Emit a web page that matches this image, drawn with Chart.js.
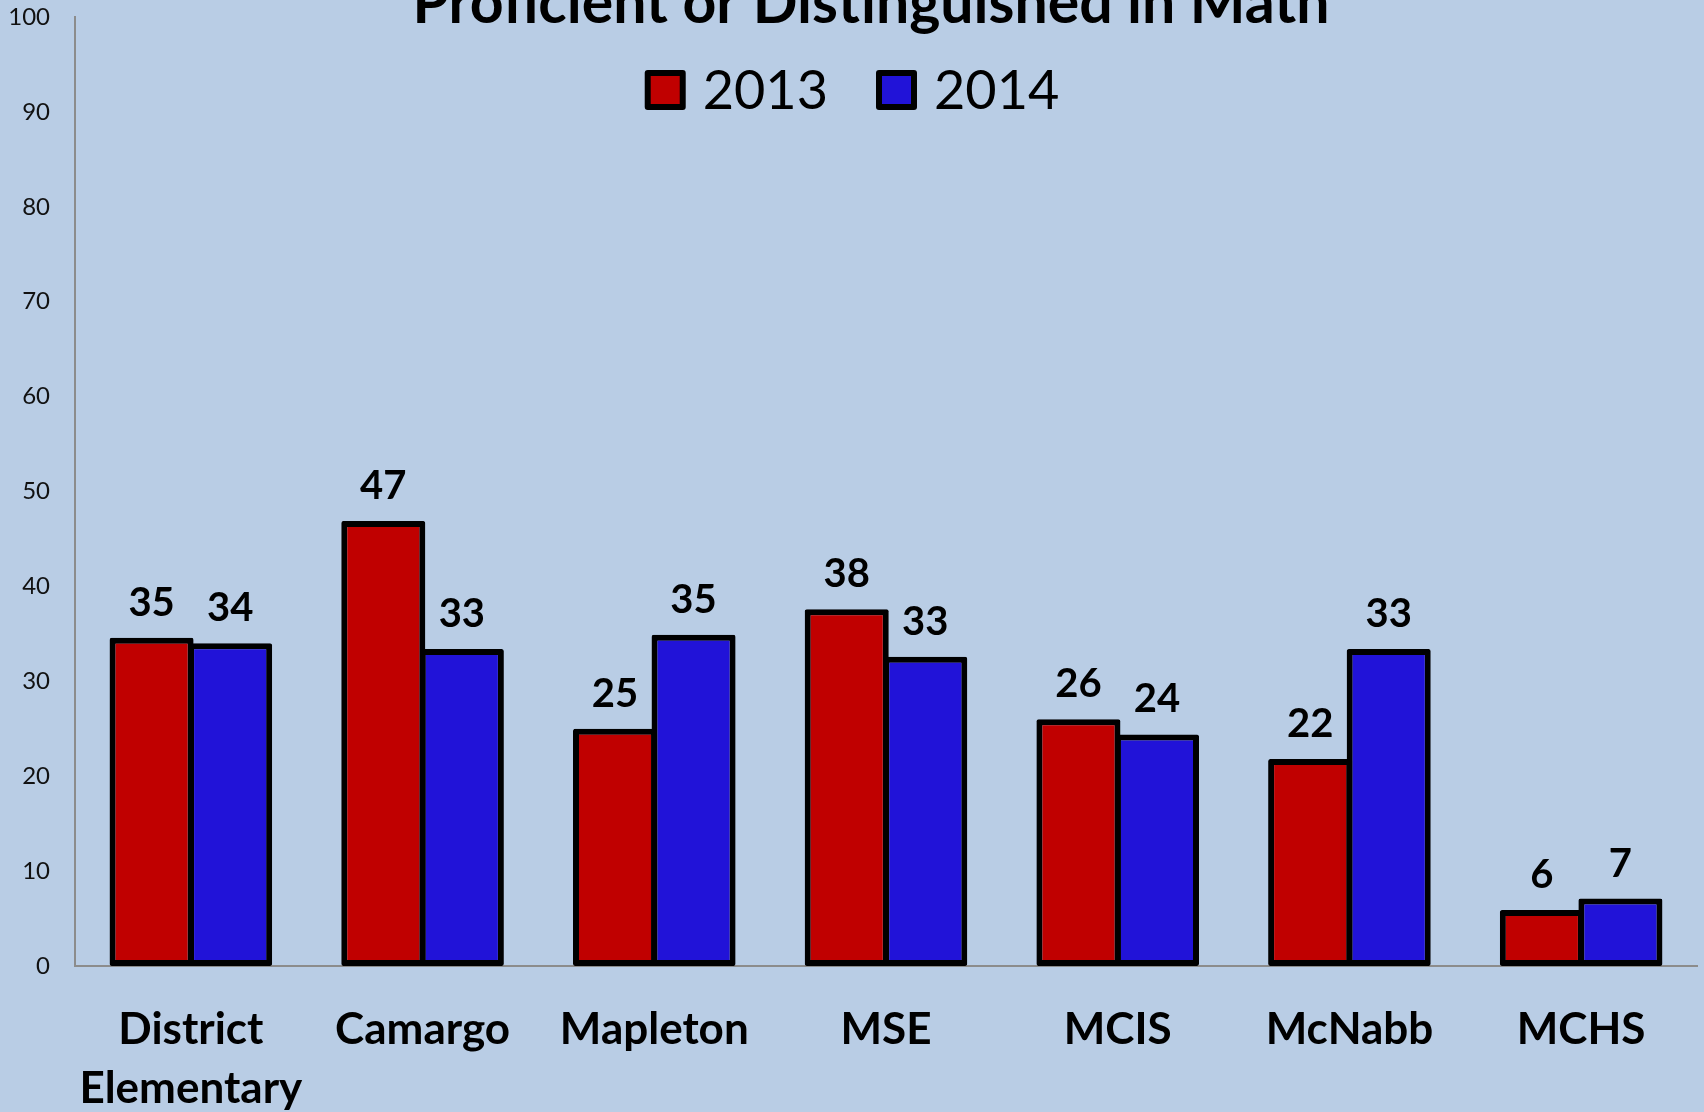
<!DOCTYPE html>
<html>
<head>
<meta charset="utf-8">
<title>Proficient or Distinguished in Math</title>
<script src="https://cdn.jsdelivr.net/npm/chart.js@4.4.1/dist/chart.umd.min.js"></script>
<style>
  html, body { margin: 0; padding: 0; background: #B9CDE5; }
  #wrap { width: 1704px; height: 1112px; }
</style>
</head>
<body>
<div id="wrap"><canvas id="mathChart" width="1704" height="1112"></canvas></div>
<script>
// Schools along the x axis
const schools = [['District', 'Elementary'], 'Camargo', 'Mapleton', 'MSE', 'MCIS', 'McNabb', 'MCHS'];

// Percent proficient or distinguished
const values2013 = [34.6, 46.9, 25.0, 37.6, 26.0, 21.8, 5.9];
const values2014 = [34.0, 33.4, 34.9, 32.6, 24.4, 33.4, 7.1];

const seriesNames = ['2013', '2014'];
const seriesColors = ['#C00000', '#2113D8'];

// y axis ticks 0..100 by 10
const yTicks = [0, 10, 20, 30, 40, 50, 60, 70, 80, 90, 100];

const titleText = 'Proficient or Distinguished in Math';

// Draws the title (cut off at the top), the legend and the value labels
const decorPlugin = {
  id: 'decor',
  afterDatasetsDraw(chart) {
    const ctx = chart.ctx;
    ctx.save();
    ctx.fillStyle = '#000';
    ctx.font = 'bold 40px Lato';
    ctx.textAlign = 'center';
    ctx.textBaseline = 'alphabetic';
    chart.data.datasets.forEach((ds, i) => {
      chart.getDatasetMeta(i).data.forEach((bar, j) => {
        ctx.fillText(String(Math.round(ds.data[j])), bar.x, bar.y - 22);
      });
    });
    ctx.restore();
  },
  afterDraw(chart) {
    const ctx = chart.ctx;
    ctx.save();
    // title
    ctx.fillStyle = '#000';
    ctx.font = 'bold 59px Lato';
    ctx.textAlign = 'center';
    ctx.textBaseline = 'alphabetic';
    ctx.fillText(titleText, 871, 23);

    // legend
    ctx.font = '54px Lato';
    ctx.textAlign = 'left';
    const boxW = 41, boxH = 40, gapText = 17, gapItem = 48;
    const widths = seriesNames.map(n => ctx.measureText(n).width);
    let total = 0;
    widths.forEach((w, i) => { total += boxW + gapText + w + (i ? gapItem : 0); });
    let x = chart.width / 2 - total / 2;
    seriesNames.forEach((name, i) => {
      ctx.fillStyle = '#000';
      ctx.beginPath();
      ctx.roundRect(x, 70, boxW, boxH, 3);
      ctx.fill();
      ctx.fillStyle = seriesColors[i];
      ctx.fillRect(x + 6, 76, boxW - 12, boxH - 12);
      ctx.fillStyle = '#000';
      ctx.fillText(name, x + boxW + gapText, 109);
      x += boxW + gapText + widths[i] + gapItem;
    });
    ctx.restore();
  }
};

new Chart(document.getElementById('mathChart'), {
  type: 'bar',
  data: {
    labels: schools,
    datasets: seriesNames.map((name, i) => ({
      label: name,
      data: i === 0 ? values2013 : values2014,
      backgroundColor: seriesColors[i],
      borderColor: '#000',
      borderWidth: 6,
      borderSkipped: false,
      borderRadius: 2,
      categoryPercentage: 0.678,
      barPercentage: 1.07
    }))
  },
  options: {
    responsive: false,
    animation: false,
    devicePixelRatio: 1,
    layout: { padding: { top: 17, right: 7, left: 0, bottom: 0 } },
    plugins: {
      legend: { display: false },
      title: { display: false },
      tooltip: { enabled: false }
    },
    scales: {
      x: {
        grid: { display: false, drawTicks: false },
        border: { display: true, color: '#8C8C8C', width: 2 },
        ticks: {
          color: '#000',
          padding: 35,
          maxRotation: 0,
          autoSkip: false,
          font: { family: 'Lato', size: 44, weight: 'bold', lineHeight: 1.33 }
        },
        afterFit: scale => { scale.height = 146; }
      },
      y: {
        min: 0,
        max: 100,
        afterBuildTicks: scale => { scale.ticks = yTicks.map(v => ({ value: v })); },
        grid: { display: false, drawTicks: false },
        border: { display: true, color: '#8C8C8C', width: 2 },
        ticks: {
          color: '#111',
          padding: 25,
          font: { family: 'Lato', size: 24 }
        },
        afterFit: scale => {
          scale.width = 75;
          scale.paddingTop = 0;
          scale.paddingBottom = 0;
        }
      }
    }
  },
  plugins: [decorPlugin]
});
</script>
</body>
</html>
